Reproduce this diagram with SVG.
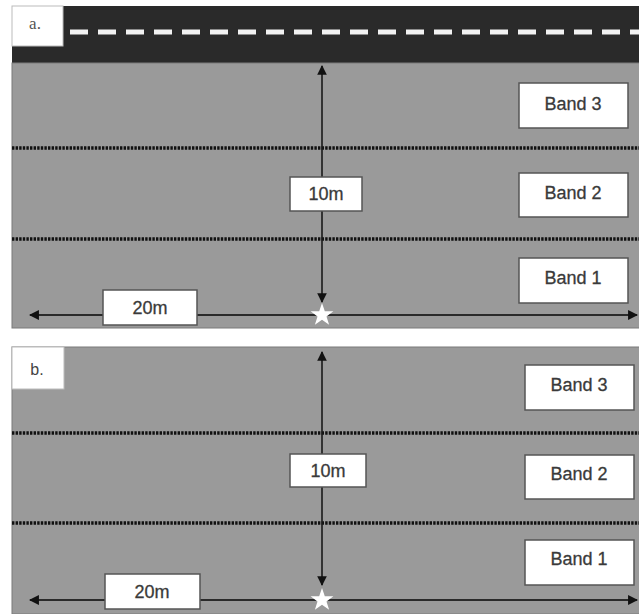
<svg xmlns="http://www.w3.org/2000/svg" width="639" height="614" viewBox="0 0 639 614">
<style>
.bg{fill:#9a9a9a;stroke:#7a7a7a;stroke-width:1}
.road{fill:#2a2a2a}
.dash{stroke:#f2f2f2;stroke-width:5;stroke-dasharray:18 10}
.dot{stroke:#111;stroke-width:3.5;stroke-dasharray:2.4 1.2}
.box{fill:#fff;stroke:#555;stroke-width:1.5}
.lbl{font-family:"Liberation Sans",Arial,sans-serif;font-size:18px;fill:#3a3a3a;text-anchor:middle;stroke:#3a3a3a;stroke-width:0.3}
.tag{fill:#fff;stroke:#bbb;stroke-width:1}
.arr{stroke:#1a1a1a;stroke-width:1.6;fill:none}
.harr{stroke:#2a2a2a;stroke-width:2.2;fill:none}
.star{fill:#fff}
</style>
<defs>
<marker id="ah" viewBox="0 0 10 10" refX="9" refY="5" markerWidth="6.5" markerHeight="6" orient="auto-start-reverse" markerUnits="strokeWidth">
<path d="M0,0 L10,5 L0,10 z" fill="#111"/>
</marker>
<marker id="ah2" viewBox="0 0 10 10" refX="9" refY="5" markerWidth="5" markerHeight="4.5" orient="auto-start-reverse" markerUnits="strokeWidth">
<path d="M0,0 L10,5 L0,10 z" fill="#111"/>
</marker>
</defs>
<rect width="639" height="614" fill="#fff"/>

<!-- Panel a -->
<g id="panel-a">
<rect class="road" x="12" y="6" width="627" height="57"/>
<rect class="bg" x="12" y="63" width="628" height="265"/>
<line class="dash" x1="70" y1="32" x2="639" y2="32"/>
<line class="dot" x1="12" y1="148" x2="639" y2="148"/>
<line class="dot" x1="12" y1="239" x2="639" y2="239"/>
</g>
<g id="tag-a">
<rect class="tag" x="12" y="6" width="51" height="40"/>
<text x="35" y="29" font-family="'Liberation Serif',serif" font-size="17" fill="#555" text-anchor="middle">a.</text>
</g>

<!-- Panel b -->
<g id="panel-b">
<rect class="bg" x="12" y="347" width="628" height="267"/>
<line class="dot" x1="12" y1="433" x2="639" y2="433"/>
<line class="dot" x1="12" y1="523" x2="639" y2="523"/>
</g>
<g id="tag-b">
<rect class="tag" x="12" y="347" width="52" height="42"/>
<text x="37" y="375" font-family="'Liberation Sans',Arial,sans-serif" font-size="16" fill="#444" text-anchor="middle">b.</text>
</g>

<g id="connectors">
<line class="arr" x1="322" y1="302" x2="322" y2="66" marker-end="url(#ah)" marker-start="url(#ah)"/>
<line class="harr" x1="30" y1="315" x2="637" y2="315" marker-end="url(#ah2)" marker-start="url(#ah2)"/>
<line class="arr" x1="322" y1="585" x2="322" y2="352" marker-end="url(#ah)" marker-start="url(#ah)"/>
<line class="harr" x1="30" y1="600" x2="637" y2="600" marker-end="url(#ah2)" marker-start="url(#ah2)"/>
</g>

<g id="star-a"><polygon class="star" points="322,303 324.8,311.2 333.4,311.3 326.5,316.4 329.1,324.7 322,319.7 314.9,324.7 317.5,316.4 310.6,311.3 319.2,311.2"/></g>
<g id="star-b"><polygon class="star" points="322,588 324.8,596.2 333.4,596.3 326.5,601.4 329.1,609.7 322,604.7 314.9,609.7 317.5,601.4 310.6,596.3 319.2,596.2"/></g>

<g id="a-10m"><rect class="box" x="290" y="177" width="72" height="34"/><text class="lbl" x="326" y="200">10m</text></g>
<g id="a-20m"><rect class="box" x="103" y="290" width="94" height="35"/><text class="lbl" x="150" y="314">20m</text></g>
<g id="a-band3"><rect class="box" x="519" y="83" width="109" height="45"/><text class="lbl" x="573" y="110">Band 3</text></g>
<g id="a-band2"><rect class="box" x="519" y="173" width="109" height="44"/><text class="lbl" x="573" y="199">Band 2</text></g>
<g id="a-band1"><rect class="box" x="519" y="258" width="109" height="45"/><text class="lbl" x="573" y="284">Band 1</text></g>

<g id="b-10m"><rect class="box" x="290" y="454" width="76" height="33"/><text class="lbl" x="328" y="477">10m</text></g>
<g id="b-20m"><rect class="box" x="105" y="574" width="95" height="35"/><text class="lbl" x="152" y="598">20m</text></g>
<g id="b-band3"><rect class="box" x="525" y="365" width="109" height="45"/><text class="lbl" x="579" y="391">Band 3</text></g>
<g id="b-band2"><rect class="box" x="525" y="455" width="109" height="44"/><text class="lbl" x="579" y="480">Band 2</text></g>
<g id="b-band1"><rect class="box" x="525" y="540" width="109" height="45"/><text class="lbl" x="579" y="565">Band 1</text></g>
</svg>
